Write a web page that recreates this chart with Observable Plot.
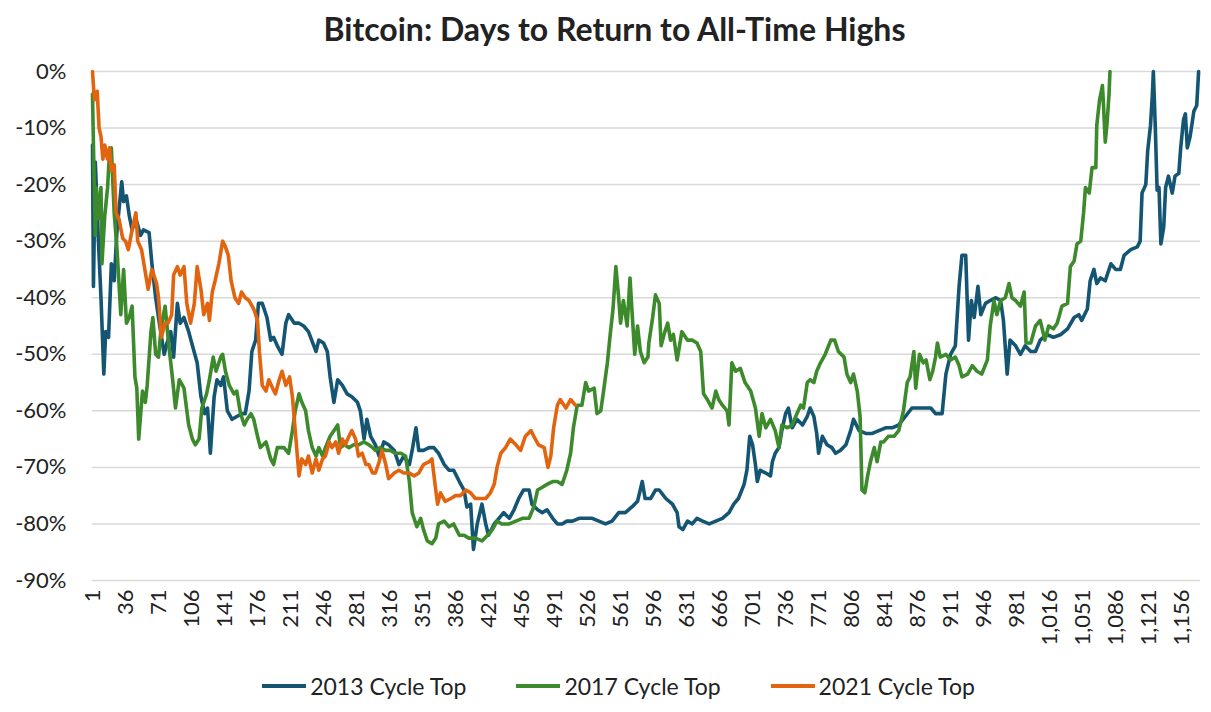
<!DOCTYPE html>
<html><head><meta charset="utf-8">
<script src="https://cdn.jsdelivr.net/npm/d3@7"></script>
<script src="https://cdn.jsdelivr.net/npm/@observablehq/plot@0.6"></script>
<style>
body{margin:0;background:#fff;font-family:Lato,"Open Sans",sans-serif;color:#222;}
#title{height:58px;line-height:58px;text-align:center;font-weight:700;font-size:32px;padding-left:18px;}
#legend{display:flex;justify-content:center;align-items:center;gap:50px;font-size:23px;height:32px;padding-left:26px;}
.item{display:flex;align-items:center}
.sw{width:44px;height:4px;margin-right:4px}
</style></head><body>
<div id="title">Bitcoin: Days to Return to All-Time Highs</div>
<div id="chart"></div>
<div id="legend"></div>
<script>
const seriesNames = ["2013 Cycle Top", "2017 Cycle Top", "2021 Cycle Top"];
const seriesColors = ["#135572", "#3c8a2b", "#e2640f"];
const yTicks = [0, -10, -20, -30, -40, -50, -60, -70, -80, -90];
const xTicks = d3.range(1, 1157, 35);

// [day, % from all-time high]
const cycle2013 = [[1,-13],[2,-38],[4,-16],[7,-29],[10,-40],[13,-53.5],[15,-46],[18,-47],[21,-34],[24,-37],[27,-28],[32,-19.5],[34,-23],[37,-22],[40,-25.5],[43,-28],[47,-26],[52,-29],[55,-28],[61,-28.5],[64,-34],[68,-40],[71,-43.5],[77,-50],[80,-48],[84,-46],[87,-50.5],[91,-41],[94,-44.5],[98,-43.5],[103,-46],[107,-48.5],[112,-51.5],[116,-57.5],[120,-60.5],[123,-59.5],[126,-67.5],[130,-57.5],[133,-54.5],[137,-55.5],[140,-54],[144,-60],[149,-61.5],[154,-61],[160,-60.5],[163,-60.5],[167,-56.5],[170,-49.5],[174,-47.5],[177,-41],[181,-41],[186,-43.5],[190,-47.5],[193,-47],[197,-48.5],[202,-50],[206,-44.5],[209,-43],[215,-44.5],[220,-44.5],[225,-45],[230,-46],[238,-49.5],[241,-47.5],[246,-48],[250,-49.5],[253,-54],[257,-58.5],[261,-54.5],[266,-55.5],[271,-57],[276,-57.5],[282,-58.5],[285,-60],[289,-65],[292,-61.5],[296,-64.5],[301,-66],
[305,-68],[310,-65.5],[315,-66],[321,-67],[326,-69.5],[331,-68],[337,-69.5],[340,-67],[344,-63],[347,-67],[352,-67],[358,-66.5],[363,-66.5],[368,-67.5],[374,-69.5],[379,-70.5],[384,-70.5],[390,-72.5],[395,-74],[398,-77],[402,-76.5],[405,-84.5],[409,-80],[414,-76.5],[418,-80],[421,-82],[427,-80],[432,-79],[437,-78],[443,-79],[448,-77.5],[453,-75.5],[458,-74],[464,-74],[467,-76.5],[473,-77.5],[478,-78],[483,-77.5],[489,-79],[494,-80],[499,-80],[504,-79.5],[510,-79.5],[517,-79],[524,-79],[531,-79],[538,-79.5],[545,-80],[552,-79.5],[559,-78],[566,-78],[573,-77],[579,-76],[584,-72.5],[587,-75.5],[593,-75.5],[598,-74],
[602,-74],[609,-75.5],[616,-76.5],[621,-78],[623,-80.5],[627,-81],[632,-79.5],[637,-80],[642,-79],[648,-79.5],[655,-80],[662,-79.5],[669,-79],[676,-78],[681,-76.5],[686,-75.5],[692,-73],[695,-70.5],[698,-64.5],[701,-66],[704,-69.5],[706,-72.5],[709,-70.5],[715,-71],[720,-71.5],[722,-69],[725,-67.5],[729,-66.5],[732,-63.5],[736,-60.5],[739,-59.5],[743,-63],[748,-61.5],[754,-62.5],[759,-61],[762,-59.5],[766,-61],[769,-64],[771,-67.5],[775,-64.5],[780,-66],[785,-66.5],[789,-67.5],[794,-67],[800,-66],[805,-63.5],[808,-61.5],[814,-63.5],[821,-64],[828,-64],[835,-63.5],[842,-63],[849,-63],[856,-62.5],[863,-61],[870,-59.5],[877,-59.5],[884,-59.5],[890,-59.5],[895,-60.5],
[902,-60.5],[906,-53.5],[911,-50],[916,-48.5],[920,-38],[923,-32.5],[927,-32.5],[930,-47.5],[933,-40.5],[936,-43.5],[940,-38],[943,-43],[948,-41],[953,-40.5],[959,-40],[964,-40.5],[967,-44],[971,-53.5],[974,-47.5],[980,-48.5],[985,-50],[990,-48.5],[996,-49.5],[1001,-49.5],[1006,-47.5],[1013,-46.5],[1020,-47],[1028,-46.5],[1035,-45.5],[1042,-43.5],[1047,-43],[1050,-44],[1056,-42],[1059,-37],[1063,-35],[1066,-37.5],[1070,-36.5],[1075,-37],[1081,-34],[1086,-35],[1091,-35],[1095,-32.5],[1102,-31.5],[1109,-31],[1112,-30],[1114,-21.5],[1118,-20],[1120,-14],[1123,-9.5],[1125,-4],[1126,0],[1128,-9.5],[1130,-21],[1132,-20.5],[1134,-30.5],[1137,-27.5],[1139,-20.5],[1142,-18.5],[1146,-21.5],[1149,-18.5],[1153,-18],[1155,-13.5],[1158,-8.5],[1160,-7.5],[1162,-13.5],[1165,-11.5],[1169,-7],[1172,-6],[1174,0]];

const cycle2017 = [[1,-4],[2,-13],[4,-29],[5,-20.5],[7,-26],[10,-20.5],[11,-34],[14,-25.5],[17,-20.5],[19,-14.5],[21,-13.5],[24,-25],[27,-31.5],[31,-43],[34,-35],[37,-44.5],[40,-43.5],[43,-41.5],[46,-54],[48,-56],[50,-65],[54,-56.5],[57,-58.5],[59,-55.5],[63,-46],[65,-43.5],[68,-50],[71,-50.5],[74,-45],[78,-41.5],[82,-48.5],[86,-54.5],[89,-59.5],[93,-54.5],[98,-56],[103,-62.5],[107,-65],[110,-66],[114,-65],[117,-59.5],[122,-57],[125,-54.5],[129,-50.5],[132,-53],[137,-50.5],[139,-50],[142,-53],[146,-55.5],[151,-57],[154,-56.5],[158,-60.5],[162,-62.5],[165,-61.5],[169,-60.5],[172,-61.5],[176,-64.5],[179,-66.5],[185,-65.5],[190,-68.5],[193,-69.5],[197,-66.5],[200,-66.5],[204,-66.5],[209,-67.5],[213,-63.5],[216,-60],[220,-57],[223,-58.5],[227,-60],[230,-63.5],[234,-66.5],[238,-68],[241,-66.5],[245,-68],[248,-66.5],[253,-64.5],[257,-63.5],[261,-62.5],[264,-66.5],[268,-66],[273,-66.5],[278,-66],[283,-66],[289,-65.5],[294,-66],[298,-66.5],[301,-67],
[306,-66.5],[312,-67],[317,-67],[322,-67.5],[328,-67.5],[333,-68],[337,-72.5],[340,-78],[345,-80.5],[349,-79],[352,-81],[356,-83],[361,-83.5],[365,-82.5],[368,-80],[374,-79.5],[379,-80.5],[384,-80],[390,-82],[395,-82],[400,-82.5],[407,-82.5],[414,-83],[420,-82],[425,-81],[430,-79.5],[435,-80],[443,-80],[450,-79.5],[457,-79],[464,-79],[469,-77],[473,-74],[478,-73.5],[483,-73],[489,-72.5],[494,-72.5],[499,-73],[504,-70.5],[508,-67.5],[511,-63],[515,-59],[520,-59],[524,-55],[527,-56.5],[533,-56],[536,-60.5],[540,-60],[543,-56.5],[547,-51.5],[550,-46.5],[553,-42],[556,-34.5],[559,-40],[561,-44.5],[564,-40.5],[568,-45],[571,-36.5],[573,-42],[576,-50],[579,-45],[582,-49.5],[586,-51.5],[590,-50.5],
[591,-48],[595,-43.5],[598,-39.5],[602,-41],[604,-48.5],[608,-46],[611,-44.5],[614,-47.5],[617,-46.5],[621,-51],[626,-46],[632,-47.5],[637,-47.5],[642,-48],[646,-49.5],[649,-57],[653,-58],[658,-59.5],[662,-56.5],[665,-58],[669,-59],[674,-60],[676,-62.5],[679,-51.5],[683,-53],[688,-52.5],[693,-55],[699,-56.5],[704,-59.5],[708,-64.5],[711,-60.5],[715,-63],[720,-61.5],[725,-63.5],[729,-66.5],[732,-62.5],[738,-63],[743,-62.5],[748,-60.5],[752,-59],[755,-59.5],[759,-55],[762,-54.5],[766,-55],[769,-53],[773,-51.5],[778,-50],[784,-47.5],[788,-47.5],[792,-49.5],[798,-50.5],[801,-53.5],[805,-55],[808,-53.5],[812,-56.5],[815,-61],[817,-74],[820,-74.5],[823,-71.5],[826,-69],[830,-66.5],[833,-69],[837,-65.5],[840,-65.5],[845,-64.5],[851,-64.5],[856,-63.5],[861,-60],[865,-55],[868,-54],[872,-49.5],[874,-56],[878,-50],[882,-51.5],[885,-51],[889,-54.5],[892,-53],[895,-50.5],
[897,-48],[900,-50.5],[906,-50],[911,-51],[916,-50.5],[920,-52],[923,-54],[929,-53.5],[934,-52],[939,-53],[944,-53.5],[950,-51],[953,-45],[957,-40.5],[960,-43],[964,-40.5],[969,-40],[973,-37.5],[976,-40],[980,-40.5],[985,-41.5],[989,-39],[991,-48],[996,-48],[1001,-45],[1006,-44],[1011,-47.5],[1015,-45],[1020,-45.5],[1024,-44.5],[1029,-41.5],[1035,-41],[1038,-34.5],[1042,-33.5],[1045,-30.5],[1049,-30],[1052,-25],[1054,-20.5],[1058,-21.5],[1061,-17],[1065,-17],[1066,-9.5],[1069,-5],[1072,-2.5],[1073,-5.5],[1075,-12.5],[1077,-9],[1079,-4],[1080,0]];

const cycle2021 = [[1,0],[3,-5],[6,-3.5],[8,-10],[10,-11.5],[12,-15.5],[14,-13],[17,-15.5],[19,-13.5],[21,-17.5],[24,-16.5],[26,-25],[29,-26],[33,-29.5],[36,-30],[39,-31.5],[43,-28],[47,-25],[49,-30],[53,-31.5],[57,-35.5],[60,-38.5],[64,-35],[69,-37.5],[71,-40],[74,-47],[78,-44.5],[81,-44.5],[85,-43],[87,-36],[91,-34.5],[94,-36],[98,-34.5],[101,-41],[105,-44.5],[109,-41],[112,-34.5],[116,-38.5],[119,-43],[123,-41],[125,-44],[128,-39],[131,-37],[135,-34],[139,-30],[142,-31],[145,-32.5],[148,-37],[152,-40],[156,-41],[159,-39],[163,-40],[167,-40.5],[172,-42],[176,-44],[178,-49.5],[181,-55.5],[185,-56.5],[188,-54.5],[192,-56],[195,-57],[199,-54.5],[202,-53],[206,-55.5],[210,-54],[213,-57.5],[217,-65.5],[220,-71.5],[223,-68.5],[227,-69.5],[230,-68],[234,-71],[238,-68.5],[241,-70.5],[245,-68.5],[248,-68],[252,-65.5],[255,-66.5],[259,-65.5],[262,-67.5],[266,-65],[269,-66],[273,-64.5],[276,-63.5],[280,-65],[283,-68],[287,-67.5],[291,-69.5],[294,-69.5],[298,-71],[301,-71],
[305,-69],[308,-67],[312,-69.5],[315,-72],[321,-71],[326,-70.5],[331,-71],[337,-71],[342,-71.5],[347,-71],[352,-69.5],[358,-69],[361,-68.5],[365,-74],[367,-76.5],[370,-74.5],[375,-76],[381,-75.5],[386,-75],[391,-75],[397,-74],[402,-74.5],[407,-75.5],[413,-75.5],[418,-75.5],[423,-74.5],[427,-73],[430,-70],[434,-67.5],[439,-66.5],[444,-65],[450,-66],[455,-67],[460,-64.5],[466,-63.5],[469,-64.5],[474,-66],[480,-66.5],[484,-70],[487,-68],[490,-63],[494,-59],[497,-58],[503,-59.5],[508,-58],[513,-59]];

const seriesData = [cycle2013, cycle2017, cycle2021];
const rows = seriesData.flatMap((pts, i) => pts.map(([day, value]) => ({day, value, series: seriesNames[i]})));

const chart = Plot.plot({
  width: 1211, height: 612,
  marginTop: 13, marginBottom: 90, marginLeft: 92, marginRight: 11,
  style: {fontFamily: "Lato, 'Open Sans', sans-serif", color: "#222", background: "#fff", overflow: "visible"},
  x: {type: "linear", domain: [1, 1176], label: null},
  y: {domain: [-90, 0], label: null},
  color: {domain: seriesNames, range: seriesColors},
  marks: [
    Plot.gridY(yTicks, {stroke: "#d9d9d9", strokeOpacity: 1, strokeWidth: 1.5}),
    Plot.axisY(yTicks, {tickFormat: d => d + "%", tickSize: 0, tickPadding: 26, fontSize: 22, fill: "#222", label: null}),
    Plot.axisX(xTicks, {tickFormat: d3.format(","), tickRotate: -90, tickSize: 0, tickPadding: 9, fontSize: 22, fill: "#222", label: null}),
    Plot.lineY(rows, {x: "day", y: "value", z: "series", stroke: "series", strokeWidth: 3.6, strokeLinejoin: "round"})
  ]
});
document.getElementById("chart").appendChild(chart);

const legend = document.getElementById("legend");
seriesNames.forEach((n, i) => {
  const item = document.createElement("div");
  item.className = "item";
  item.innerHTML = `<span class="sw" style="background:${seriesColors[i]}"></span><span>${n}</span>`;
  legend.appendChild(item);
});
</script>
</body></html>
